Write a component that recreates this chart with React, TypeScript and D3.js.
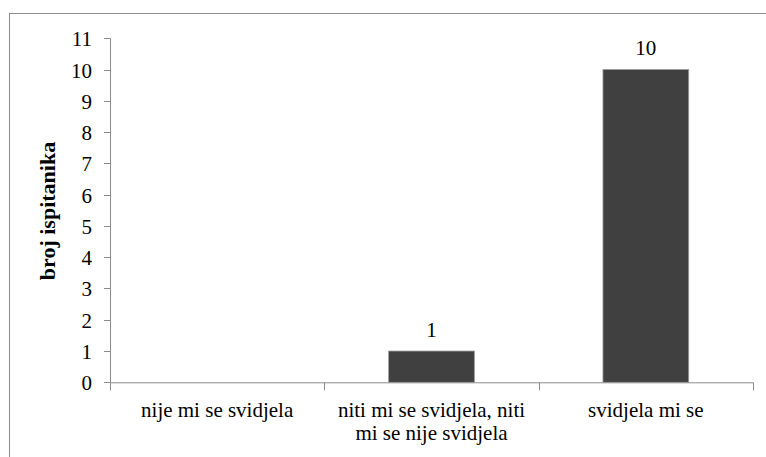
import React from 'react';
import * as d3 from 'd3';

// categories (each line of a label is its own entry)
const categories = ['nije mi se svidjela', 'niti mi se svidjela, niti mi se nije svidjela', 'svidjela mi se'];
const categoryLines = [['nije mi se svidjela'], ['niti mi se svidjela, niti', 'mi se nije svidjela'], ['svidjela mi se']];
const counts = [0, 1, 10];
const yTicks = [0, 1, 2, 3, 4, 5, 6, 7, 8, 9, 10, 11];
const yTitle = 'broj ispitanika';

const width = 766;
const height = 457;
const left = 110;
const right = 753;
const top = 38.3;
const bottom = 382.3;
const axisColor = '#8c8c8c';

const textStyle: React.CSSProperties = {
  fontFamily: 'Liberation Serif',
  fontSize: 21,
};

const App = () => {
  const x = d3.scaleBand().domain(categories).range([left, right]).paddingInner(0.6).paddingOuter(0.3);
  const y = d3.scaleLinear().domain([0, 11]).range([bottom, top]);

  // category boundaries for the x-axis tick marks
  const boundaries = [left, ...categories.map((c) => (x(c) as number) - (x.step() * 0.6) / 2 + x.step())];

  return (
    <svg width={width} height={height} style={{ position: 'absolute', left: 0, top: 0, background: 'white' }}>
      {/* outer frame */}
      <rect x={9.5} y={13.5} width={width} height={height} fill="white" stroke={axisColor} />

      {/* bars */}
      {counts.map((d, i) =>
        d > 0 ? (
          <rect
            key={categories[i]}
            x={x(categories[i])}
            y={y(d)}
            width={x.bandwidth()}
            height={y(0) - y(d)}
            fill="#404040"
            stroke="#9a9a9a"
            strokeWidth={0.8}
          />
        ) : null
      )}

      {/* value labels */}
      {counts.map((d, i) =>
        d > 0 ? (
          <text
            key={'v' + i}
            x={(x(categories[i]) as number) + x.bandwidth() / 2}
            y={y(d) - 14.5}
            textAnchor="middle"
            style={textStyle}
          >
            {d}
          </text>
        ) : null
      )}

      {/* y axis */}
      <line x1={left + 0.5} x2={left + 0.5} y1={top} y2={bottom} stroke={axisColor} />
      {yTicks.map((t) => (
        <g key={t} transform={`translate(0,${Math.round(y(t)) + 0.5})`}>
          <line x1={left - 6} x2={left} stroke={axisColor} />
          <text x={left - 18} dy="0.34em" textAnchor="end" style={textStyle}>
            {t}
          </text>
        </g>
      ))}

      {/* x axis */}
      <line x1={left} x2={right} y1={bottom + 0.5} y2={bottom + 0.5} stroke={axisColor} />
      {boundaries.map((b, i) => (
        <line
          key={i}
          x1={Math.round(b) + 0.5}
          x2={Math.round(b) + 0.5}
          y1={bottom}
          y2={bottom + 8}
          stroke={axisColor}
        />
      ))}

      {/* category labels */}
      {categoryLines.map((lines, i) => (
        <text key={categories[i]} textAnchor="middle" style={textStyle}>
          {lines.map((l, j) => (
            <tspan key={j} x={(x(categories[i]) as number) + x.bandwidth() / 2} y={417 + j * 23}>
              {l}
            </tspan>
          ))}
        </text>
      ))}

      {/* y title */}
      <text
        transform="translate(55,211) rotate(-90)"
        textAnchor="middle"
        style={{ fontFamily: 'Liberation Serif', fontSize: 22, fontWeight: 'bold' }}
      >
        {yTitle}
      </text>
    </svg>
  );
};

export default App;
